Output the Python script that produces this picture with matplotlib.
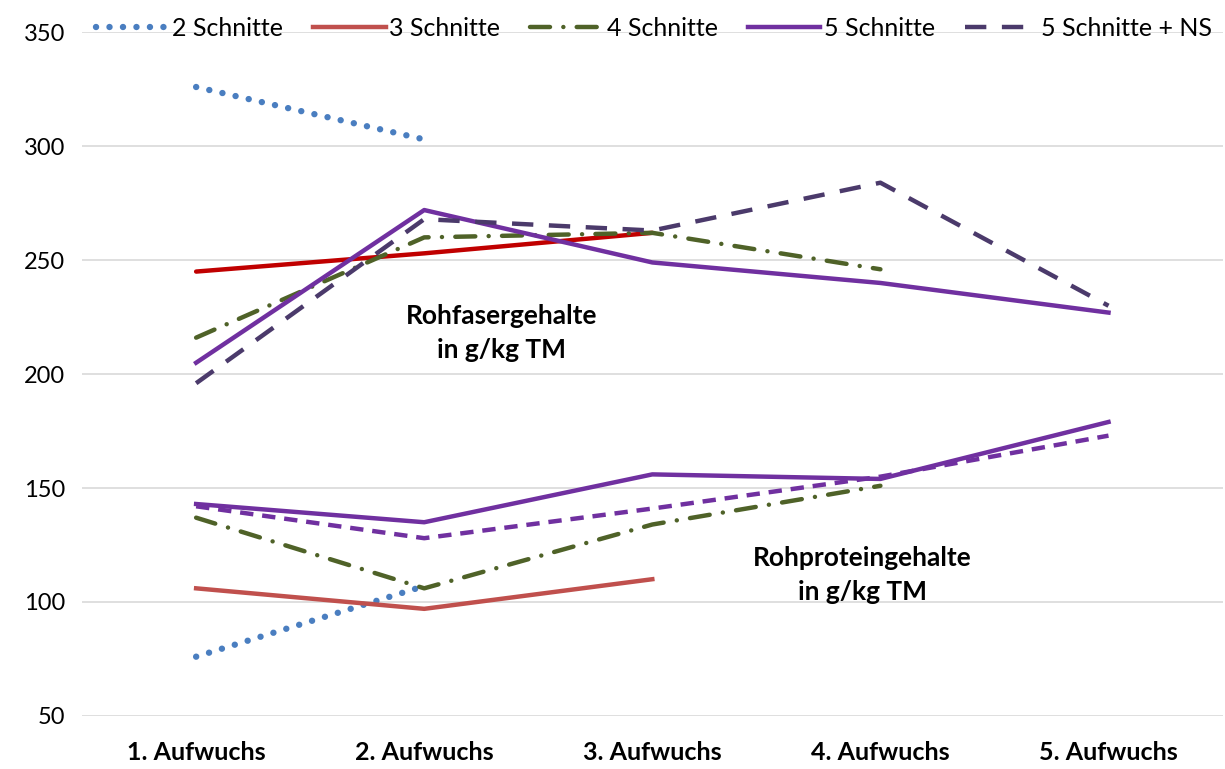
import matplotlib.pyplot as plt
import numpy as np

plt.rcParams['font.family'] = ['Lato', 'DejaVu Sans']

aufwuchs = ['1. Aufwuchs', '2. Aufwuchs', '3. Aufwuchs', '4. Aufwuchs', '5. Aufwuchs']
nan = np.nan

# Rohfasergehalte (g/kg TM)
rf_2 = [326, 303, nan, nan, nan]
rf_3 = [245, 253, 262, nan, nan]
rf_4 = [216, 260, 262, 246, nan]
rf_5 = [205, 272, 249, 240, 227]
rf_5ns = [196, 268, 263, 284, 230]

# Rohproteingehalte (g/kg TM)
rp_2 = [76, 107, nan, nan, nan]
rp_3 = [106, 97, 110, nan, nan]
rp_4 = [137, 106, 134, 151, nan]
rp_5 = [143, 135, 156, 154, 179]
rp_5ns = [142, 128, 141, 155, 173]

x = np.arange(len(aufwuchs))

fig = plt.figure(figsize=(12.25, 7.69), dpi=100)
ax = fig.add_axes([0.067, 0.069, 0.931, 0.889])

lw = 3.2
dot = (0, (0.01, 2.1))
dashdot = (0, (4.5, 3, 0.01, 3))
longdash = (0, (4.8, 3.5))
shortdash = (0, (3, 2))

# Rohfaser
ax.plot(x, rf_2, color='#4A7EC0', lw=4.6, linestyle=dot, dash_capstyle='round', label='2 Schnitte')
ax.plot(x, rf_3, color='#C00000', lw=lw, solid_capstyle='round')
ax.plot(x, rf_4, color='#4F6228', lw=lw, linestyle=dashdot, dash_capstyle='round', label='4 Schnitte')
ax.plot(x, rf_5, color='#7030A0', lw=lw, label='5 Schnitte')
ax.plot(x, rf_5ns, color='#4B3A6B', lw=lw, linestyle=longdash, label='5 Schnitte + NS')

# Rohprotein
ax.plot(x, rp_2, color='#4A7EC0', lw=4.6, linestyle=dot, dash_capstyle='round')
ax.plot(x, rp_3, color='#C0504D', lw=lw, label='3 Schnitte')
ax.plot(x, rp_4, color='#4F6228', lw=lw, linestyle=dashdot, dash_capstyle='round')
ax.plot(x, rp_5, color='#7030A0', lw=lw)
ax.plot(x, rp_5ns, color='#7030A0', lw=lw, linestyle=shortdash)

ax.set_xlim(-0.5, 4.5)
ax.set_ylim(50, 350)
ax.set_yticks(range(50, 351, 50))
ax.set_xticks(x)
ax.set_xticklabels(aufwuchs, fontweight='bold', fontsize=18)
ax.tick_params(axis='both', length=0, colors='#000000')
ax.tick_params(axis='y', labelsize=17, pad=12)
ax.tick_params(axis='x', pad=18)
ax.grid(axis='y', color='#D9D9D9', lw=1.2)
ax.set_axisbelow(True)
for s in ax.spines.values():
    s.set_visible(False)

ax.text(1.34, 218, 'Rohfasergehalte\nin g/kg TM', ha='center', va='center',
        fontsize=19, fontweight='bold', linespacing=1.5)
ax.text(2.92, 112, 'Rohproteingehalte\nin g/kg TM', ha='center', va='center',
        fontsize=19, fontweight='bold', linespacing=1.5)

handles, labels = ax.get_legend_handles_labels()
order = ['2 Schnitte', '3 Schnitte', '4 Schnitte', '5 Schnitte', '5 Schnitte + NS']
hmap = dict(zip(labels, handles))
fig.legend([hmap[k] for k in order], order, loc='center', bbox_to_anchor=(0.534, 1 - 28 / 769),
           ncol=5, frameon=False, fontsize=18, handlelength=2.9, handletextpad=0.15,
           columnspacing=1.2)

fig.savefig('out.png', dpi=100)
